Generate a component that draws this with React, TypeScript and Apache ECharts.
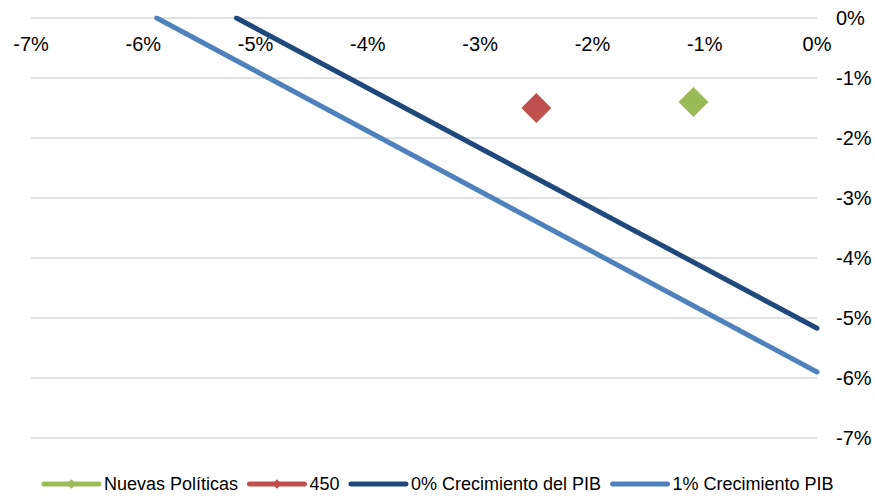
import React, { useEffect, useRef } from "react";
import * as echarts from "echarts";

const xTicks = [-7, -6, -5, -4, -3, -2, -1, 0];
const seriesNames = ["Nuevas Políticas", "450", "0% Crecimiento del PIB", "1% Crecimiento PIB"];
const nuevasPoliticas = [[-1.1, -1.4]];
const escenario450 = [[-2.5, -1.5]];
const crecimiento0 = [[-5.17, 0], [0, -5.17]];
const crecimiento1 = [[-5.88, 0], [0, -5.9]];

const fmt = (v: number) => (Math.abs(v) < 1e-9 ? "0%" : `${v}%`);

export default function App() {
  const ref = useRef<HTMLDivElement>(null);
  useEffect(() => {
    const chart = echarts.init(ref.current!, null, { renderer: "svg" });
    const font = "'Liberation Sans', Arial, sans-serif";
    chart.setOption({
      animation: false,
      backgroundColor: "#ffffff",
      grid: { left: 31, right: 58, top: 18, bottom: 58 },
      xAxis: {
        type: "value",
        position: "top",
        min: xTicks[0],
        max: xTicks[xTicks.length - 1],
        interval: 1,
        axisLine: { show: false },
        axisTick: { show: false },
        splitLine: { show: false },
        axisLabel: {
          inside: true,
          margin: 16,
          formatter: fmt,
          color: "#000",
          fontSize: 20,
          fontFamily: font,
        },
      },
      yAxis: {
        type: "value",
        position: "right",
        min: -7,
        max: 0,
        interval: 1,
        axisLine: { show: false },
        axisTick: { show: false },
        splitLine: { show: true, lineStyle: { color: "#d9d9d9", width: 1.5 } },
        axisLabel: {
          margin: 19,
          formatter: fmt,
          color: "#000",
          fontSize: 20,
          fontFamily: font,
        },
      },
      legend: {
        top: 470,
        left: "center",
        itemWidth: 55,
        itemHeight: 12,
        itemGap: 9,
        lineStyle: { width: 5, cap: "round" },
        data: [
          { name: seriesNames[0] },
          { name: seriesNames[1] },
          { name: seriesNames[2], itemStyle: { opacity: 0 } },
          { name: seriesNames[3], itemStyle: { opacity: 0 } },
        ],
        textStyle: { color: "#000", fontSize: 18, fontFamily: font },
      },
      series: [
        {
          name: seriesNames[0],
          type: "line",
          data: nuevasPoliticas,
          symbol: "diamond",
          symbolSize: 30,
          color: "#9BBB59",
          lineStyle: { width: 5, color: "#9BBB59" },
          itemStyle: { color: "#9BBB59" },
        },
        {
          name: seriesNames[1],
          type: "line",
          data: escenario450,
          symbol: "diamond",
          symbolSize: 30,
          color: "#C0504D",
          lineStyle: { width: 5, color: "#C0504D" },
          itemStyle: { color: "#C0504D" },
        },
        {
          name: seriesNames[2],
          type: "line",
          data: crecimiento0,
          symbol: "none",
          color: "#1F497D",
          lineStyle: { width: 5, color: "#1F497D", cap: "round" },
          itemStyle: { color: "#1F497D" },
        },
        {
          name: seriesNames[3],
          type: "line",
          data: crecimiento1,
          symbol: "none",
          color: "#4F81BD",
          lineStyle: { width: 5, color: "#4F81BD", cap: "round" },
          itemStyle: { color: "#4F81BD" },
        },
      ],
    });
    return () => chart.dispose();
  }, []);
  return (
    <div
      ref={ref}
      style={{ position: "fixed", left: 0, top: 0, width: 875, height: 496 }}
    />
  );
}
